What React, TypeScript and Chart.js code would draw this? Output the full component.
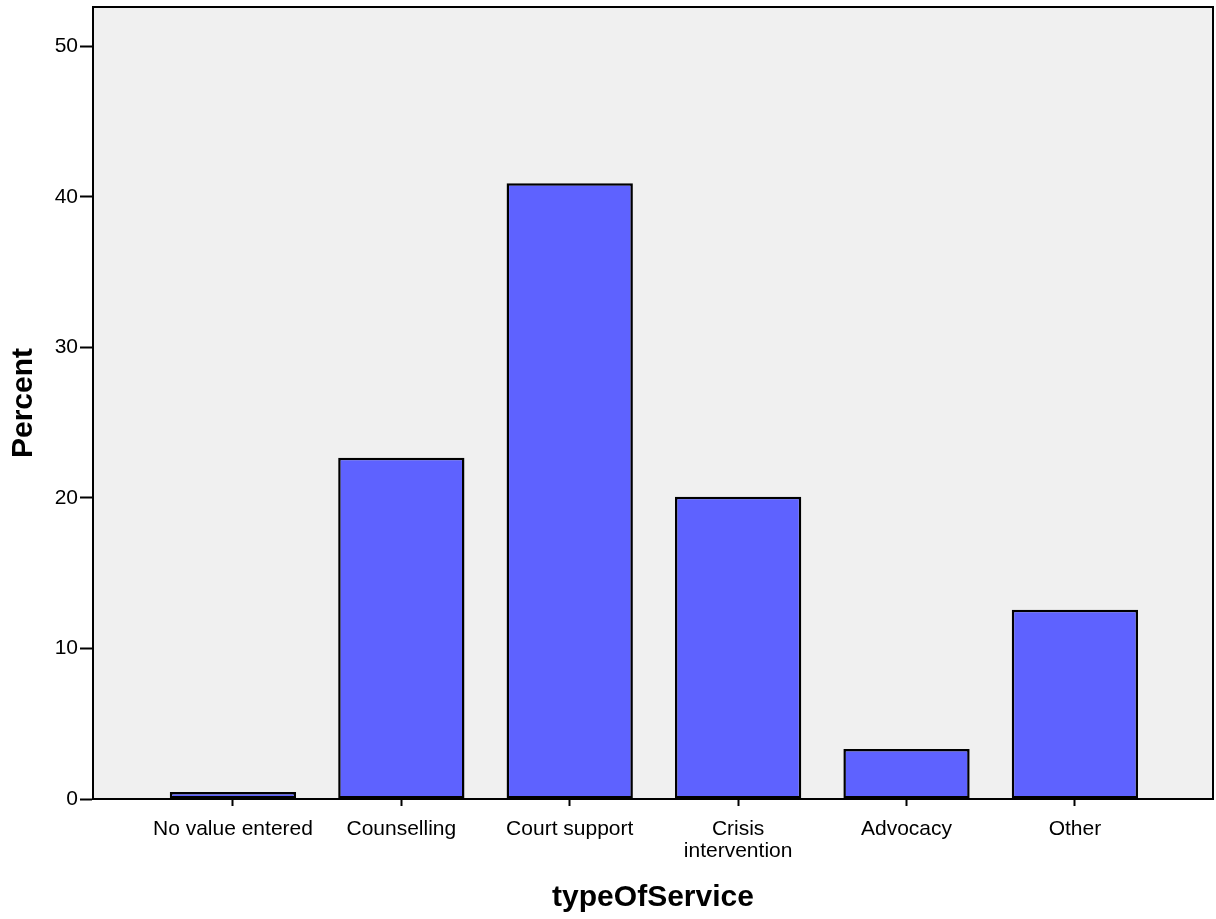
import React, { useEffect, useRef } from "react";
import { Chart, registerables } from "chart.js";

Chart.register(...registerables);

const categories = ["No value entered", "Counselling", "Court support", "Crisis intervention", "Advocacy", "Other"];
const tickLabels: string[][] = [["No value entered"], ["Counselling"], ["Court support"], ["Crisis", "intervention"], ["Advocacy"], ["Other"]];
const percentValues = [0.47, 22.67, 40.9, 20.08, 3.32, 12.57];
const yTicks = [0, 10, 20, 30, 40, 50];
const yTitle = "Percent";
const xTitle = "typeOfService";

const FONT = "'Liberation Sans', Arial, sans-serif";

const plotFrame = {
  id: "plotFrame",
  beforeDraw(chart: any) {
    const { ctx, chartArea } = chart;
    ctx.save();
    ctx.fillStyle = "#ffffff";
    ctx.fillRect(0, 0, chart.width, chart.height);
    ctx.fillStyle = "#F0F0F0";
    ctx.fillRect(chartArea.left, chartArea.top, chartArea.right - chartArea.left, chartArea.bottom - chartArea.top);
    ctx.restore();
  },
  afterDraw(chart: any) {
    const { ctx, chartArea } = chart;
    ctx.save();
    ctx.strokeStyle = "#000000";
    ctx.lineWidth = 2;
    ctx.strokeRect(chartArea.left, chartArea.top, chartArea.right - chartArea.left, chartArea.bottom - chartArea.top);
    ctx.restore();
  },
};

export default function App() {
  const ref = useRef<HTMLCanvasElement | null>(null);
  useEffect(() => {
    if (!ref.current) return;
    const chart = new Chart(ref.current, {
      type: "bar",
      data: {
        datasets: [
          {
            label: yTitle,
            data: percentValues.map((v, i) => ({ x: i, y: v })),
            backgroundColor: "#5E62FF",
            borderColor: "#000000",
            borderWidth: 2.5,
            borderSkipped: false,
            categoryPercentage: 1,
            barPercentage: 0.75,
          },
        ],
      },
      options: {
        animation: false,
        responsive: false,
        devicePixelRatio: 1,
        layout: { padding: { top: 7, right: 3, left: 0, bottom: 0 } },
        plugins: { legend: { display: false }, tooltip: { enabled: false } },
        scales: {
          x: {
            type: "linear",
            offset: false,
            min: -0.831,
            max: 5.82,
            afterBuildTicks: (scale: any) => {
              scale.ticks = categories.map((_, i) => ({ value: i }));
            },
            afterFit: (scale: any) => {
              scale.height = 120;
              scale.paddingLeft = 0;
              scale.paddingRight = 0;
            },
            grid: { display: true, offset: false, drawOnChartArea: false, drawTicks: true, tickLength: 7, tickColor: "#000", tickWidth: 2 },
            border: { display: true, color: "#000", width: 2 },
            ticks: {
              autoSkip: false,
              maxRotation: 0,
              padding: 12,
              color: "#000",
              font: { family: FONT, size: 21, lineHeight: 1.05 },
              callback: (v: any) => tickLabels[Math.round(Number(v))] ?? "",
            },
            title: {
              display: true,
              text: xTitle,
              color: "#000",
              font: { family: FONT, size: 30, weight: "bold", lineHeight: 1.2 },
              padding: { top: 0, bottom: 3 },
            },
          },
          y: {
            type: "linear",
            min: 0,
            max: 52.6,
            afterBuildTicks: (scale: any) => {
              scale.ticks = yTicks.map((v) => ({ value: v }));
            },
            afterFit: (scale: any) => {
              scale.width = 93;
              scale.paddingTop = 0;
              scale.paddingBottom = 0;
            },
            grid: { display: true, drawOnChartArea: false, drawTicks: true, tickLength: 13, tickColor: "#000", tickWidth: 2 },
            border: { display: true, color: "#000", width: 2 },
            ticks: {
              padding: 2,
              color: "#000",
              font: { family: FONT, size: 21 },
            },
            title: {
              display: true,
              text: yTitle,
              color: "#000",
              font: { family: FONT, size: 30, weight: "bold", lineHeight: 1.2 },
              padding: { top: 6, bottom: 0 },
            },
          },
        },
      },
      plugins: [plotFrame],
    } as any);
    return () => chart.destroy();
  }, []);
  return (
    <div style={{ position: "fixed", left: 0, top: 0, width: 1216, height: 919, background: "#fff" }}>
      <canvas ref={ref} width={1216} height={919} style={{ width: 1216, height: 919, display: "block" }} />
    </div>
  );
}
